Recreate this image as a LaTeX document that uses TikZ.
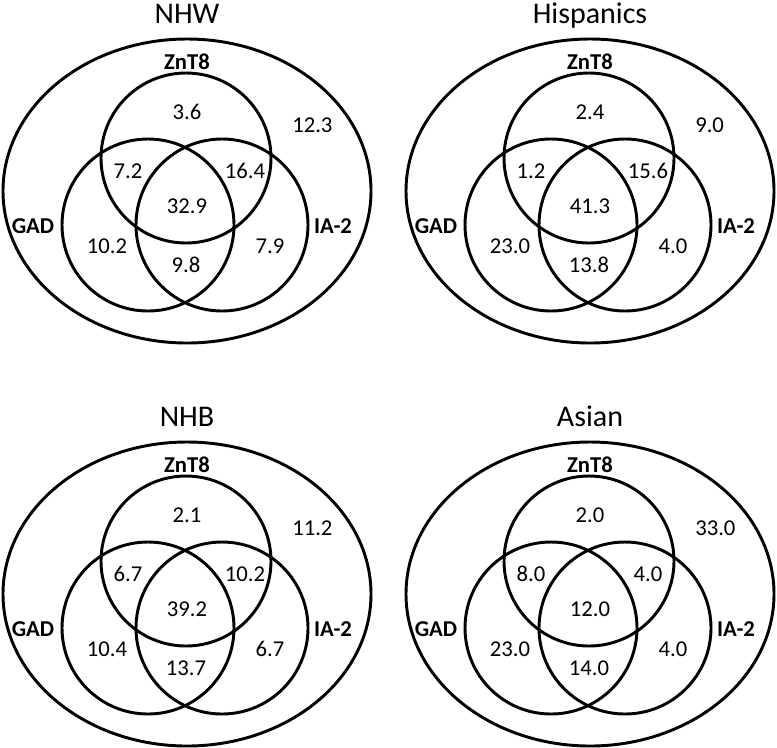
\documentclass[tikz,border=0pt]{standalone}
\usepackage{fontspec}
\setmainfont{Carlito}
\begin{document}
\begin{tikzpicture}[x=0.75pt,y=-0.75pt,
  ring/.style={line width=2.2pt},
  num/.style={inner sep=0pt,anchor=base,font=\fontsize{17}{20}\selectfont},
  setname/.style={num,font=\fontsize{17}{20}\selectfont\bfseries},
  paneltitle/.style={inner sep=0pt,anchor=base,font=\fontsize{22.5}{27}\selectfont}]
\useasboundingbox (0,0) rectangle (777,747);
\foreach \dx/\dy/\name/\z/\o/\gz/\zi/\all/\g/\ia/\gi [count=\i] in
  {0/0/NHW/3.6/12.3/7.2/16.4/32.9/10.2/7.9/9.8,
   403/0/Hispanics/2.4/9.0/1.2/15.6/41.3/23.0/4.0/13.8,
   0/403/NHB/2.1/11.2/6.7/10.2/39.2/10.4/6.7/13.7,
   403/403/Asian/2.0/33.0/8.0/4.0/12.0/23.0/4.0/14.0}
{
\begin{scope}[shift={(\dx,\dy)}]
\draw[ring] (187,191) ellipse [x radius=184, y radius=152];
\draw[ring] (186,158) circle [radius=85];
\draw[ring] (148,225) circle [radius=86];
\draw[ring] (222,225) circle [radius=86];
\node[paneltitle] (title\i) at (187,23) {\name};
\node[setname] (zntlabel\i) at (187,69) {ZnT8};
\node[setname] (gadlabel\i) at (33,233) {GAD};
\node[setname] (ialabel\i) at (333,233) {IA-2};
\node[num] (z\i) at (187,119) {\z};
\node[num,anchor=base west] (out\i) at (292,132) {\o};
\node[num] (gz\i) at (128,178) {\gz};
\node[num] (zi\i) at (245,178) {\zi};
\node[num] (all\i) at (187,213) {\all};
\node[num] (g\i) at (107,253) {\g};
\node[num] (ia\i) at (270,253) {\ia};
\node[num] (gi\i) at (186,272) {\gi};
\end{scope}
}
\end{tikzpicture}
\end{document}
